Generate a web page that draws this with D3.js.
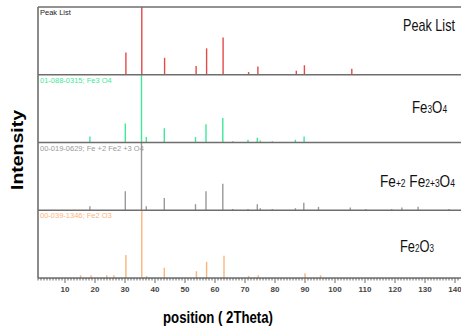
<!DOCTYPE html>
<html>
<head>
<meta charset="utf-8">
<script src="https://cdn.jsdelivr.net/npm/d3@7"></script>
<style>
  body { margin: 0; background: #fff; }
  text { font-family: Arial, "Liberation Sans", sans-serif; }
</style>
</head>
<body>
<svg id="chart" width="461" height="326"></svg>
<script>
// Panel names, reference codes and colours
var panels = ["peak", "fe3o4", "fe2fe3o4", "fe2o3"];
var refCodes = ["Peak List", "01-088-0315; Fe3 O4", "00-019-0629; Fe +2 Fe2 +3 O4", "00-039-1346; Fe2 O3"];
var colors = ["#e34a4a", "#3fe897", "#9a9a9a", "#f9b57a"];

// Peak positions (2Theta) and relative intensities (%)
var peakPos = [30.3, 35.6, 43.2, 53.7, 57.2, 62.7, 71.2, 74.3, 87.1, 89.8, 105.6];
var peakInt = [33, 100, 25, 13, 39, 55, 4, 12, 6, 14, 9];

var fe3o4Pos = [18.3, 30.1, 35.5, 37.1, 43.1, 53.5, 57.0, 62.6, 65.9, 71.0, 74.1, 75.1, 79.1, 86.8, 89.7];
var fe3o4Int = [9, 28, 100, 8, 21, 8, 27, 36, 2, 4, 7, 3, 2, 4, 9];

var fe2fe3o4Pos = [18.3, 30.1, 35.5, 37.1, 43.1, 53.5, 57.0, 62.6, 65.9, 71.0, 74.1, 75.1, 79.1, 86.8, 89.6, 94.5, 105.1, 110.3, 118.9, 122.3, 127.7, 138.0];
var fe2fe3o4Int = [6, 28, 100, 6, 18, 9, 28, 39, 2, 2, 9, 3, 2, 3, 11, 5, 4, 2, 2, 4, 5, 2];

var fe2o3Pos = [15.2, 18.7, 23.9, 26.3, 30.3, 35.6, 37.2, 43.1, 53.8, 57.2, 63.0, 71.2, 74.4, 90.0, 95.2];
var fe2o3Int = [4, 4, 4, 4, 34, 100, 3, 15, 10, 24, 33, 3, 4, 7, 4];

var xTicks = [10, 20, 30, 40, 50, 60, 70, 80, 90, 100, 110, 120, 130, 140];

var series = [
  {pos: peakPos, val: peakInt},
  {pos: fe3o4Pos, val: fe3o4Int},
  {pos: fe2fe3o4Pos, val: fe2fe3o4Int},
  {pos: fe2o3Pos, val: fe2o3Int}
];

var svg = d3.select("#chart");
var plotLeft = 38, plotRight = 458, plotTop = 7, plotBottom = 278;

var x = d3.scaleLinear().domain([1, 141]).range([plotLeft, plotRight]);
var band = d3.scaleBand().domain(panels).range([plotTop, plotBottom]).padding(0);

// Peaks in each panel
panels.forEach(function(p, i) {
  var y0 = band(p), h = band.bandwidth();
  var y = d3.scaleLinear().domain([0, 100]).range([y0 + h, y0]);
  var data = series[i].pos.map(function(d, j) { return {pos: d, val: series[i].val[j]}; });
  svg.append("g").selectAll("line")
      .data(data)
      .enter()
    .append("line")
      .attr("x1", function(d) { return x(d.pos); })
      .attr("x2", function(d) { return x(d.pos); })
      .attr("y1", y(0))
      .attr("y2", function(d) { return y(d.val); })
      .attr("stroke", colors[i])
      .attr("stroke-width", 1.4);

  svg.append("text")
      .attr("x", plotLeft + 2)
      .attr("y", y0 + 8)
      .attr("font-size", 7.5)
      .attr("fill", i === 0 ? "#222" : colors[i])
      .text(refCodes[i]);
});

// Panel separators and frame
var seps = panels.map(function(p) { return band(p); }).concat([plotBottom]);
svg.append("g").selectAll("line")
    .data(seps)
    .enter()
  .append("line")
    .attr("x1", plotLeft)
    .attr("x2", plotRight + 3)
    .attr("y1", function(d) { return d; })
    .attr("y2", function(d) { return d; })
    .attr("stroke", "#6e6e6e")
    .attr("stroke-width", 1.6);

svg.append("line")
    .attr("x1", plotLeft).attr("x2", plotLeft)
    .attr("y1", plotTop).attr("y2", plotBottom)
    .attr("stroke", "#6e6e6e")
    .attr("stroke-width", 1.6);

// X axis: minor ticks every degree, major every 10
var xAxis = svg.append("g").attr("transform", "translate(0," + plotBottom + ")");
xAxis.selectAll("line.minor")
    .data(d3.range(1, 142))
    .enter()
  .append("line")
    .attr("x1", function(d) { return x(d); })
    .attr("x2", function(d) { return x(d); })
    .attr("y1", 0)
    .attr("y2", function(d) { return d % 10 === 0 ? 5 : 2.5; })
    .attr("stroke", "#444")
    .attr("stroke-width", 0.8);

xAxis.selectAll("text")
    .data(xTicks)
    .enter()
  .append("text")
    .attr("x", function(d) { return x(d); })
    .attr("y", 14)
    .attr("text-anchor", "middle")
    .attr("font-size", 8)
    .attr("font-weight", "bold")
    .attr("fill", "#444")
    .text(function(d) { return d; });

// Axis titles
svg.append("text")
    .attr("x", 218)
    .attr("y", 323)
    .attr("text-anchor", "middle")
    .attr("font-size", 16)
    .attr("font-weight", "bold")
    .attr("textLength", 110)
    .attr("lengthAdjust", "spacingAndGlyphs")
    .text("position (  2Theta)");

svg.append("text")
    .attr("transform", "translate(23,150) rotate(-90)")
    .attr("text-anchor", "middle")
    .attr("font-size", 16)
    .attr("font-weight", "bold")
    .attr("textLength", 80)
    .attr("lengthAdjust", "spacingAndGlyphs")
    .text("Intensity");

// Phase names on the right, squeezed horizontally to a narrow look
function phaseLabel(xl, yb, len, parts) {
  var g = svg.append("g");
  var t = g.append("text")
      .attr("fill", "#111");
  parts.forEach(function(p) {
    t.append("tspan").attr("font-size", p[1] ? 10 : 16).text(p[0]);
  });
  var w = t.node().getComputedTextLength();
  g.attr("transform", "translate(" + xl + "," + yb + ") scale(" + (len / w) + ",1)");
}
phaseLabel(403, 31, 52, [["Peak List", false]]);
phaseLabel(412, 113, 35, [["Fe", false], ["3", true], ["O", false], ["4", true]]);
phaseLabel(380, 187, 75, [["Fe", false], ["+2", true], [" Fe", false], ["2+3", true], ["O", false], ["4", true]]);
phaseLabel(400, 252, 34, [["Fe", false], ["2", true], ["O", false], ["3", true]]);
</script>
</body>
</html>
